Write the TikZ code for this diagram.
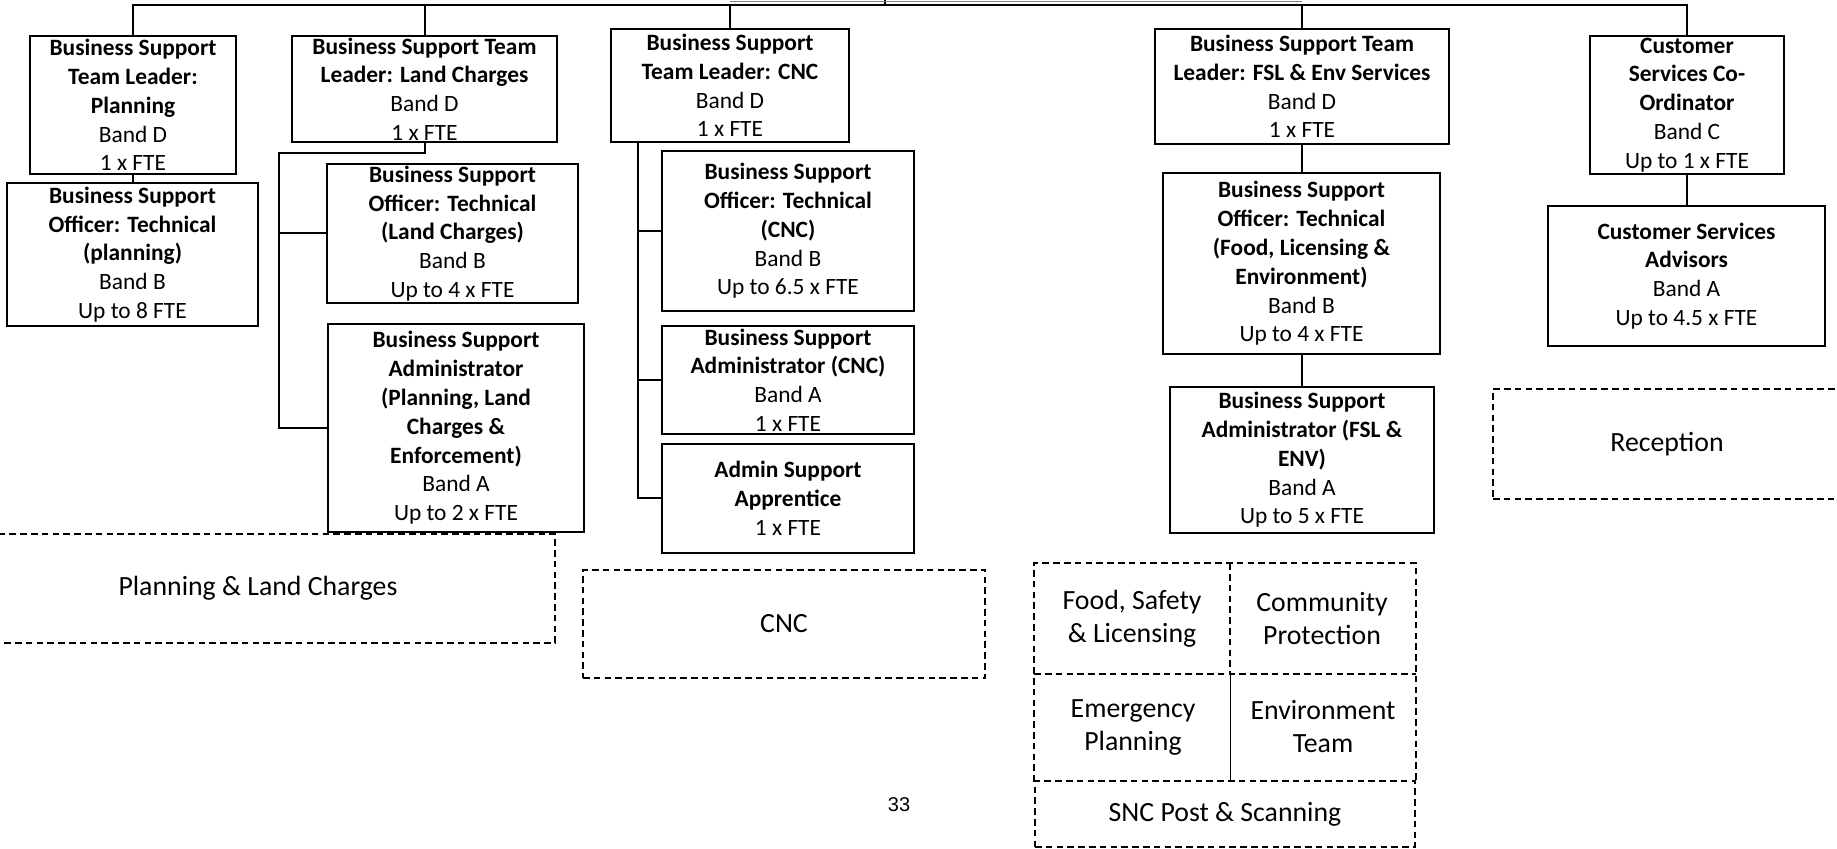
\documentclass[tikz,border=0pt]{standalone}
\usepackage{fontspec}
\setmainfont{Carlito}
\newfontfamily\pagefont{Liberation Sans}

\tikzset{
  post/.style={draw, line width=1pt, inner sep=0pt, align=center,
    font=\fontsize{11.7}{14.4}\selectfont},
  area/.style={draw, line width=0.8pt, dash pattern=on 3.3pt off 2.1pt,
    inner sep=0pt, align=center, font=\fontsize{13.9}{16.5}\selectfont},
  cell/.style={area, draw=none},
  gridline/.style={line width=0.8pt, dash pattern=on 3.3pt off 2.1pt},
  link/.style={line width=1pt}
}

\begin{document}
\begin{tikzpicture}[x=0.5pt, y=-0.5pt]
    \useasboundingbox (0,0) rectangle (1837,849);

    % Planning
    \node[post, minimum width=103pt, minimum height=69pt] (plTL) at (133,105)
        {\textbf{Business Support}\\\textbf{Team Leader:}\\\textbf{Planning}\\Band D\\1 x FTE};
    \node[post, minimum width=125.5pt, minimum height=71.5pt] (plOff) at (132.5,254.5)
        {\textbf{Business Support}\\\textbf{Officer: Technical}\\\textbf{(planning)}\\Band B\\Up to 8 FTE};

    % Land Charges
    \node[post, minimum width=132.5pt, minimum height=53pt] (lcTL) at (424.5,89)
        {\textbf{Business Support Team}\\\textbf{Leader: Land Charges}\\Band D\\1 x FTE};
    \node[post, minimum width=125.5pt, minimum height=69.5pt] (lcOff) at (452.5,233.5)
        {\textbf{Business Support}\\\textbf{Officer: Technical}\\\textbf{(Land Charges)}\\Band B\\Up to 4 x FTE};
    \node[post, minimum width=128pt, minimum height=104pt] (lcAdm) at (456,428)
        {\textbf{Business Support}\\\textbf{Administrator}\\\textbf{(Planning, Land}\\\textbf{Charges \&}\\\textbf{Enforcement)}\\Band A\\Up to 2 x FTE};
    \node[area, minimum width=297pt, minimum height=54.5pt] (plArea) at (258,588.5)
        {Planning \& Land Charges};

    % CNC
    \node[post, minimum width=119pt, minimum height=56.5pt] (cncTL) at (730,85.5)
        {\textbf{Business Support}\\\textbf{Team Leader: CNC}\\Band D\\1 x FTE};
    \node[post, minimum width=126pt, minimum height=80pt] (cncOff) at (788,231)
        {\textbf{Business Support}\\\textbf{Officer: Technical}\\\textbf{(CNC)}\\Band B\\Up to 6.5 x FTE};
    \node[post, minimum width=126pt, minimum height=54pt] (cncAdm) at (788,380)
        {\textbf{Business Support}\\\textbf{Administrator (CNC)}\\Band A\\1 x FTE};
    \node[post, minimum width=126pt, minimum height=54.5pt] (cncApp) at (788,498.5)
        {\textbf{Admin Support}\\\textbf{Apprentice}\\1 x FTE};
    \node[area, minimum width=201pt, minimum height=54pt] (cncArea) at (784,624) {CNC};

    % FSL & Env Services
    \node[post, minimum width=147pt, minimum height=57.5pt] (fslTL) at (1302,86.5)
        {\textbf{Business Support Team}\\\textbf{Leader: FSL \& Env Services}\\Band D\\1 x FTE};
    \node[post, minimum width=138.5pt, minimum height=90.5pt] (fslOff) at (1301.5,263.5)
        {\textbf{Business Support}\\\textbf{Officer: Technical}\\\textbf{(Food, Licensing \&}\\\textbf{Environment)}\\Band B\\Up to 4 x FTE};
    \node[post, minimum width=132pt, minimum height=73pt] (fslAdm) at (1302,460)
        {\textbf{Business Support}\\\textbf{Administrator (FSL \&}\\\textbf{ENV)}\\Band A\\Up to 5 x FTE};
    \node[cell, minimum width=97pt, minimum height=54.5pt] (fsArea) at (1132,618.5)
        {Food, Safety\\\& Licensing};
    \node[cell, minimum width=93pt, minimum height=54.5pt] (cpArea) at (1322,618.5)
        {Community\\Protection};
    \node[cell, minimum width=98pt, minimum height=54pt] (epArea) at (1133,727)
        {Emergency\\Planning};
    \node[cell, minimum width=92pt, minimum height=54pt] (etArea) at (1323,727)
        {Environment\\Team};
    \node[area, line width=1.1pt, minimum width=190pt, minimum height=33pt] (sncArea) at (1225,814)
        {SNC Post \& Scanning};
    \draw[gridline] (epArea.south west) -- (fsArea.north west) -- (cpArea.north east) -- (etArea.south east);
    \draw[gridline] (fsArea.south west) -- (cpArea.south east);
    \draw[gridline] (fsArea.north east) -- (fsArea.south east);
    \draw[line width=0.6pt] (etArea.north west) -- (etArea.south west);

    % Customer Services
    \node[post, minimum width=97pt, minimum height=69pt] (csCo) at (1687,105)
        {\textbf{Customer}\\\textbf{Services Co-}\\\textbf{Ordinator}\\Band C\\Up to 1 x FTE};
    \node[post, minimum width=138.5pt, minimum height=70pt] (csAdv) at (1686.5,276)
        {\textbf{Customer Services}\\\textbf{Advisors}\\Band A\\Up to 4.5 x FTE};
    \node[area, minimum width=174pt, minimum height=55pt] (recArea) at (1667,444) {Reception};

    % page number
    \node[font=\pagefont\fontsize{10}{12}\selectfont] (pgNum) at (899,805) {33};

    % Top bus
    \coordinate (root) at (885,0);
    \coordinate (bus) at (885,5);
    \draw[link] (root) -- (bus);
    \draw[link] (plTL.north) |- (bus) -| (csCo.north);
    \foreach \n in {lcTL,cncTL,fslTL}
        \draw[link] (\n.north) -- (\n.north |- bus);
    \draw[line width=0.5pt, gray] (cncTL.north |- 0,2) -- (fslTL.north |- 0,2);

    % Reporting lines
    \draw[link] (plTL.south) -- (plTL.south |- plOff.north);
    \coordinate (lcBar) at (279,153);
    \draw[link] (lcTL.south) |- (lcBar) |- (lcAdm.west);
    \draw[link] (lcBar |- lcOff.west) -- (lcOff.west);
    \coordinate (cncBar) at (638,0);
    \draw[link] (cncTL.south -| cncBar) |- (cncApp.west);
    \draw[link] (cncBar |- cncOff.west) -- (cncOff.west);
    \draw[link] (cncBar |- cncAdm.west) -- (cncAdm.west);
    \draw[link] (fslTL.south) -- (fslTL.south |- fslOff.north);
    \draw[link] (fslOff.south) -- (fslOff.south |- fslAdm.north);
    \draw[link] (csCo.south) -- (csCo.south |- csAdv.north);
\end{tikzpicture}
\end{document}
